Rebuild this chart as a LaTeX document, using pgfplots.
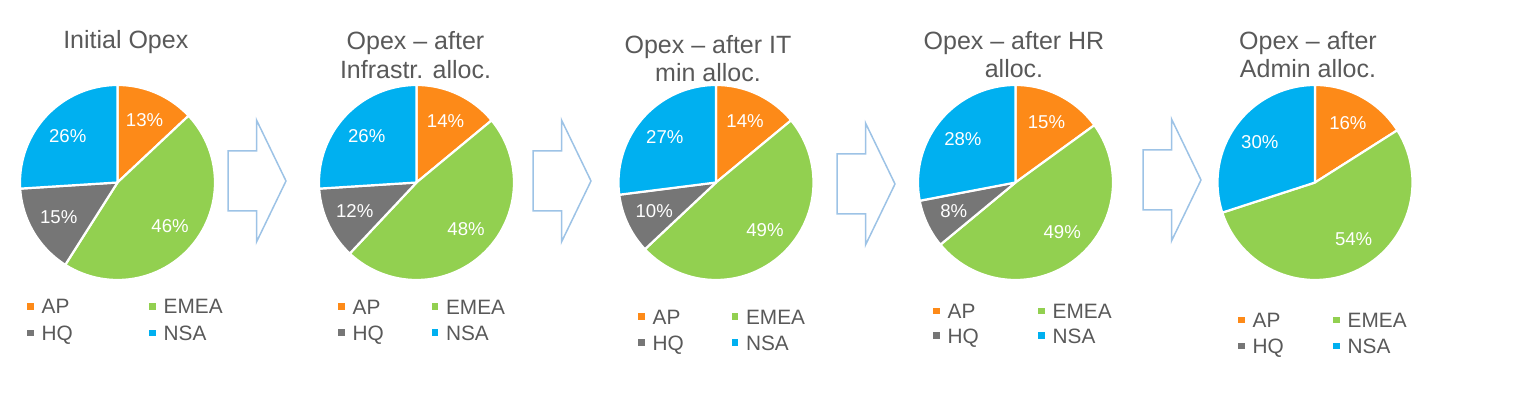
\documentclass[border=0pt]{standalone}
\usepackage{fontspec}
\setmainfont{Liberation Sans}
\usepackage{pgfplots}
\pgfplotsset{compat=1.18}

\definecolor{apc}{RGB}{253,138,24}
\definecolor{emeac}{RGB}{146,208,80}
\definecolor{hqc}{RGB}{118,118,118}
\definecolor{nsac}{RGB}{0,176,240}
\definecolor{txt}{RGB}{89,89,89}
\definecolor{arr}{RGB}{157,195,230}

\pgfplotsset{
  pieaxis/.style={
    hide axis, scale only axis, width=97.5pt, height=97.5pt,
    xmin=-1,xmax=1,ymin=-1,ymax=1, anchor=center, clip=false,
    title style={font=\fontsize{12.5}{14.2}\selectfont, text=txt, align=center,
      at={(0.5,1)}, anchor=base, inner sep=0pt},
    legend columns=2, legend cell align=left,
    legend image code/.code={\fill[##1,draw=none] (0pt,-1.675pt) rectangle (3.35pt,1.675pt);
      \path[draw=none,fill=none] (0pt,0pt) rectangle (7.2pt,0.1pt);},
    legend style={draw=none, fill=none, inner sep=0pt, outer sep=0pt, anchor=north west,
      font=\fontsize{10.4}{12}\selectfont, text=txt,
      nodes={inner sep=0pt, text height=10.22pt, text depth=2.78pt}, column sep=0pt},
  },
  wedge/.style={draw=white, line width=1.1pt, line join=round, samples=60, mark=none},
}

\newcommand\pctlabel[2]{%
  \node[font=\fontsize{9.3}{11}\selectfont, text=white, inner sep=0pt]
    at (axis cs:{0.70*cos(#1)},{0.70*sin(#1)}) {#2\%};}

% #1 centre x (px), #2 AP, #3 EMEA, #4 HQ, #5 NSA, #6 title, #7 title dx (px),
% #8 legend left (px), #9 legend first row y (px)
\newcommand\pie[9]{%
  \pgfmathsetmacro\cxpt{#1/2}%
  \pgfmathsetmacro\tdx{#7/2}%
  \pgfmathsetmacro\eA{90-3.6*#2}%
  \pgfmathsetmacro\eB{\eA-3.6*#3}%
  \pgfmathsetmacro\eC{\eB-3.6*#4}%
  \pgfmathsetmacro\mA{90-1.8*#2}%
  \pgfmathsetmacro\mB{\eA-1.8*#3+\emeaoff}%
  \pgfmathsetmacro\mC{\eB-1.8*#4}%
  \pgfmathsetmacro\mD{\eC-1.8*#5}%
  \pgfmathsetmacro\lx{0.5+(#8/2-\cxpt)/97.5}%
  \pgfmathsetmacro\ly{0.5+((395-#9)/2+6.5-106.25)/97.5}%
  \pgfmathsetmacro\lrs{\legpitch/2-13}%
  \begin{axis}[pieaxis, at={(\cxpt pt,106.25pt)},
    title={#6}, title style={xshift=\tdx pt, yshift=\tys pt},
    legend style={at={(\lx,\ly)}, row sep=\lrs pt}]
    \addplot[wedge, fill=apc, domain=\eA:90] ({cos(x)},{sin(x)}) -- (axis cs:0,0) -- cycle;
    \addlegendentry{\makebox[\legw pt][l]{AP}}
    \addplot[wedge, fill=emeac, domain=\eB:\eA] ({cos(x)},{sin(x)}) -- (axis cs:0,0) -- cycle;
    \addlegendentry{EMEA}
    \ifnum#4=0
      \addlegendimage{fill=hqc}
    \else
      \addplot[wedge, fill=hqc, domain=\eC:\eB] ({cos(x)},{sin(x)}) -- (axis cs:0,0) -- cycle;
    \fi
    \addlegendentry{\makebox[\legw pt][l]{HQ}}
    \addplot[wedge, fill=nsac, domain=-270:\eC] ({cos(x)},{sin(x)}) -- (axis cs:0,0) -- cycle;
    \addlegendentry{NSA}
    \pctlabel{\mA}{#2}
    \pctlabel{\mB}{#3}
    \ifnum#4=0 \else \pctlabel{\mC}{#4}\fi
    \pctlabel{\mD}{#5}
  \end{axis}}

% block arrow: #1 left (px), #2 centre y (px)
\newcommand\blockarrow[2]{%
  \pgfmathsetmacro\bL{#1/2}\pgfmathsetmacro\bH{(#1+28.5)/2}%
  \pgfmathsetmacro\bT{(#1+58)/2}\pgfmathsetmacro\bY{(395-#2)/2}%
  \draw[arr, line width=0.75pt, line join=miter, fill=white]
    (\bL pt,\bY pt+15pt) -- (\bH pt,\bY pt+15pt) -- (\bH pt,\bY pt+30.5pt)
    -- (\bT pt,\bY pt) -- (\bH pt,\bY pt-30.5pt) -- (\bH pt,\bY pt-15pt)
    -- (\bL pt,\bY pt-15pt) -- cycle;}

\begin{document}
\begin{tikzpicture}
\path[use as bounding box] (0pt,0pt) rectangle (760.5pt,197.5pt);

\blockarrow{228}{181}
\blockarrow{533}{181}
\blockarrow{837}{184}
\blockarrow{1143}{180}

\def\legw{53.8}\def\legpitch{26.7}\def\emeaoff{0}\def\tys{12.35}
\pie{117.5}{13}{46}{15}{26}{Initial Opex}{8.3}{27.3}{306.3}

\def\legw{39.5}\def\legpitch{26}\def\emeaoff{3.4}\def\tys{-2.65}
\pie{416.5}{14}{48}{12}{26}{Opex \textendash{} after\\Infrastr. alloc.}{-1}{338.3}{306.7}

\def\legw{39.5}\def\legpitch{26}\def\emeaoff{4.5}\def\tys{-4.35}
\pie{716}{14}{49}{10}{27}{Opex \textendash{} after IT\\min alloc.}{-8}{638.3}{316.7}

\def\legw{45.3}\def\legpitch{24.7}\def\emeaoff{5.4}\def\tys{-2.5}
\pie{1015.5}{15}{49}{8}{28}{Opex \textendash{} after HR\\alloc.}{-1.5}{933.3}{311}

\def\legw{40.3}\def\legpitch{26}\def\emeaoff{9.3}\def\tys{-2.5}
\pie{1315}{16}{54}{0}{30}{Opex \textendash{} after\\Admin alloc.}{-7}{1238.3}{320}
\end{tikzpicture}
\end{document}
